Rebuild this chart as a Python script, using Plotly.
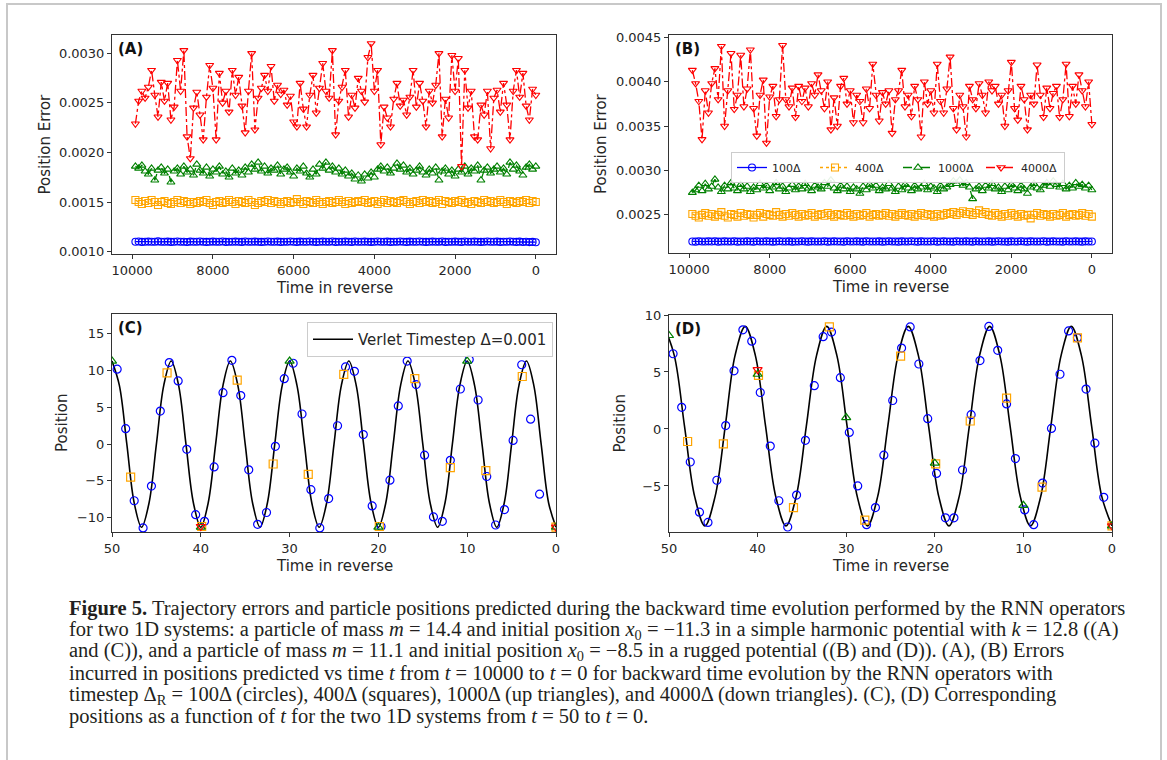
import plotly.graph_objects as go

# ---------------- data ----------------
T_ERR = list(range(9920, -1, -80))  # sampling times for panels A/B (125 samples)

A_100 = [
    0.001100, 0.001102, 0.001098, 0.001100, 0.001101, 0.001099, 0.001100, 0.001103, 0.001099, 0.001100,
    0.001101, 0.001098, 0.001100, 0.001102, 0.001099, 0.001100, 0.001097, 0.001101, 0.001100, 0.001099,
    0.001102, 0.001100, 0.001098, 0.001100, 0.001101, 0.001099, 0.001100, 0.001102, 0.001098, 0.001100,
    0.001099, 0.001101, 0.001100, 0.001098, 0.001102, 0.001100, 0.001099, 0.001101, 0.001100, 0.001098,
    0.001100, 0.001102, 0.001099, 0.001100, 0.001101, 0.001098, 0.001100, 0.001099, 0.001102, 0.001100,
    0.001098, 0.001101, 0.001100, 0.001099, 0.001102, 0.001100, 0.001098, 0.001100, 0.001101, 0.001099,
    0.001100, 0.001102, 0.001098, 0.001100, 0.001099, 0.001101, 0.001100, 0.001098, 0.001102, 0.001100,
    0.001099, 0.001101, 0.001100, 0.001098, 0.001100, 0.001102, 0.001099, 0.001100, 0.001101, 0.001098,
    0.001100, 0.001099, 0.001102, 0.001100, 0.001098, 0.001101, 0.001100, 0.001099, 0.001102, 0.001100,
    0.001098, 0.001100, 0.001101, 0.001099, 0.001100, 0.001102, 0.001098, 0.001100, 0.001099, 0.001101,
    0.001100, 0.001098, 0.001102, 0.001100, 0.001099, 0.001101, 0.001100, 0.001098, 0.001100, 0.001102,
    0.001099, 0.001100, 0.001101, 0.001098, 0.001100, 0.001099, 0.001102, 0.001100, 0.001098, 0.001101,
    0.001097, 0.001099, 0.001096, 0.001098, 0.001095,
]
A_400 = [
    0.00152, 0.00150, 0.00148, 0.00151, 0.00149, 0.00152, 0.00150, 0.00147, 0.00150, 0.00151,
    0.00149, 0.00148, 0.00150, 0.00152, 0.00149, 0.00151, 0.00150, 0.00148, 0.00150, 0.00149,
    0.00151, 0.00150, 0.00152, 0.00149, 0.00147, 0.00150, 0.00151, 0.00149, 0.00150, 0.00152,
    0.00150, 0.00148, 0.00151, 0.00150, 0.00149, 0.00152, 0.00150, 0.00147, 0.00149, 0.00151,
    0.00150, 0.00152, 0.00149, 0.00151, 0.00150, 0.00148, 0.00150, 0.00151, 0.00149, 0.00150,
    0.00153, 0.00150, 0.00148, 0.00151, 0.00150, 0.00149, 0.00152, 0.00150, 0.00148, 0.00150,
    0.00151, 0.00149, 0.00150, 0.00152, 0.00150, 0.00148, 0.00151, 0.00149, 0.00150, 0.00151,
    0.00150, 0.00152, 0.00149, 0.00150, 0.00151, 0.00148, 0.00150, 0.00152, 0.00149, 0.00151,
    0.00150, 0.00149, 0.00151, 0.00152, 0.00150, 0.00148, 0.00150, 0.00151, 0.00149, 0.00152,
    0.00150, 0.00151, 0.00149, 0.00150, 0.00152, 0.00148, 0.00151, 0.00150, 0.00149, 0.00151,
    0.00150, 0.00152, 0.00149, 0.00150, 0.00148, 0.00151, 0.00150, 0.00149, 0.00152, 0.00150,
    0.00151, 0.00149, 0.00150, 0.00152, 0.00150, 0.00148, 0.00151, 0.00150, 0.00149, 0.00151,
    0.00150, 0.00152, 0.00149, 0.00151, 0.00150,
]
A_1000 = [
    0.00186, 0.00184, 0.00187, 0.00181, 0.00178, 0.00184, 0.00172, 0.00182, 0.00185, 0.00179,
    0.00183, 0.00170, 0.00181, 0.00184, 0.00178, 0.00186, 0.00180, 0.00183, 0.00177, 0.00188,
    0.00182, 0.00179, 0.00185, 0.00176, 0.00183, 0.00180, 0.00186, 0.00178, 0.00181, 0.00175,
    0.00184, 0.00179, 0.00182, 0.00177, 0.00185, 0.00180, 0.00188, 0.00183, 0.00190, 0.00181,
    0.00186, 0.00179, 0.00184, 0.00182, 0.00187, 0.00178, 0.00183, 0.00185, 0.00180, 0.00176,
    0.00184, 0.00181, 0.00186, 0.00179, 0.00175, 0.00183, 0.00178, 0.00188, 0.00184, 0.00190,
    0.00182, 0.00186, 0.00180, 0.00184, 0.00178, 0.00182, 0.00176, 0.00179, 0.00173, 0.00177,
    0.00171, 0.00178, 0.00174, 0.00180, 0.00175, 0.00183, 0.00186, 0.00181, 0.00185, 0.00179,
    0.00184, 0.00189, 0.00183, 0.00187, 0.00180, 0.00184, 0.00178, 0.00182, 0.00186, 0.00180,
    0.00177, 0.00183, 0.00179, 0.00185, 0.00172, 0.00181, 0.00184, 0.00178, 0.00182, 0.00176,
    0.00183, 0.00180, 0.00186, 0.00178, 0.00184, 0.00181, 0.00187, 0.00172, 0.00182, 0.00185,
    0.00179, 0.00183, 0.00186, 0.00180, 0.00184, 0.00178, 0.00190, 0.00183, 0.00187, 0.00181,
    0.00177, 0.00185, 0.00188, 0.00183, 0.00186,
]
A_4000 = [
    0.00229, 0.00252, 0.00262, 0.00255, 0.00266, 0.00283, 0.00258, 0.00236, 0.00271, 0.00252,
    0.00270, 0.00233, 0.00246, 0.00293, 0.00262, 0.00303, 0.00216, 0.00194, 0.00245, 0.00261,
    0.00238, 0.00213, 0.00256, 0.00288, 0.00265, 0.00213, 0.00280, 0.00250, 0.00262, 0.00241,
    0.00283, 0.00258, 0.00276, 0.00247, 0.00220, 0.00262, 0.00300, 0.00223, 0.00255, 0.00265,
    0.00278, 0.00262, 0.00287, 0.00252, 0.00268, 0.00259, 0.00263, 0.00248, 0.00257, 0.00231,
    0.00226, 0.00270, 0.00244, 0.00226, 0.00258, 0.00278, 0.00240, 0.00265, 0.00290, 0.00262,
    0.00255, 0.00303, 0.00218, 0.00252, 0.00266, 0.00283, 0.00236, 0.00258, 0.00245, 0.00275,
    0.00262, 0.00251, 0.00296, 0.00310, 0.00262, 0.00283, 0.00208, 0.00246, 0.00235, 0.00226,
    0.00254, 0.00270, 0.00247, 0.00253, 0.00238, 0.00256, 0.00283, 0.00246, 0.00270, 0.00252,
    0.00226, 0.00262, 0.00250, 0.00268, 0.00300, 0.00216, 0.00254, 0.00235, 0.00298, 0.00262,
    0.00295, 0.00186, 0.00283, 0.00245, 0.00262, 0.00216, 0.00213, 0.00248, 0.00238, 0.00262,
    0.00204, 0.00255, 0.00263, 0.00241, 0.00270, 0.00248, 0.00213, 0.00262, 0.00283, 0.00256,
    0.00280, 0.00247, 0.00233, 0.00264, 0.00258,
]

B_100 = [
    0.002200, 0.002198, 0.002202, 0.002200, 0.002199, 0.002201, 0.002200, 0.002203, 0.002198, 0.002200,
    0.002201, 0.002199, 0.002200, 0.002202, 0.002198, 0.002200, 0.002199, 0.002201, 0.002200, 0.002198,
    0.002202, 0.002200, 0.002199, 0.002201, 0.002200, 0.002198, 0.002200, 0.002202, 0.002199, 0.002200,
    0.002201, 0.002198, 0.002200, 0.002199, 0.002202, 0.002200, 0.002198, 0.002201, 0.002200, 0.002199,
    0.002200, 0.002202, 0.002198, 0.002200, 0.002201, 0.002199, 0.002200, 0.002198, 0.002202, 0.002200,
    0.002199, 0.002201, 0.002200, 0.002198, 0.002202, 0.002200, 0.002199, 0.002200, 0.002201, 0.002198,
    0.002200, 0.002202, 0.002199, 0.002200, 0.002198, 0.002201, 0.002200, 0.002199, 0.002202, 0.002200,
    0.002198, 0.002201, 0.002200, 0.002199, 0.002200, 0.002202, 0.002198, 0.002200, 0.002201, 0.002199,
    0.002200, 0.002198, 0.002202, 0.002200, 0.002199, 0.002201, 0.002200, 0.002198, 0.002202, 0.002200,
    0.002199, 0.002200, 0.002201, 0.002198, 0.002200, 0.002202, 0.002199, 0.002200, 0.002198, 0.002201,
    0.002200, 0.002199, 0.002202, 0.002200, 0.002198, 0.002201, 0.002200, 0.002199, 0.002200, 0.002202,
    0.002198, 0.002200, 0.002201, 0.002199, 0.002200, 0.002198, 0.002202, 0.002200, 0.002199, 0.002201,
    0.002200, 0.002198, 0.002201, 0.002199, 0.002200,
]
B_400 = [
    0.00251, 0.00249, 0.00247, 0.00250, 0.00252, 0.00249, 0.00251, 0.00248, 0.00250, 0.00253,
    0.00249, 0.00247, 0.00251, 0.00250, 0.00248, 0.00252, 0.00249, 0.00251, 0.00250, 0.00247,
    0.00250, 0.00252, 0.00248, 0.00251, 0.00250, 0.00249, 0.00253, 0.00250, 0.00248, 0.00251,
    0.00249, 0.00252, 0.00250, 0.00248, 0.00251, 0.00249, 0.00250, 0.00252, 0.00248, 0.00250,
    0.00251, 0.00249, 0.00252, 0.00250, 0.00248, 0.00251, 0.00250, 0.00249, 0.00252, 0.00250,
    0.00248, 0.00251, 0.00249, 0.00250, 0.00252, 0.00248, 0.00250, 0.00251, 0.00249, 0.00250,
    0.00252, 0.00249, 0.00251, 0.00248, 0.00250, 0.00252, 0.00250, 0.00249, 0.00251, 0.00248,
    0.00250, 0.00252, 0.00249, 0.00251, 0.00250, 0.00248, 0.00251, 0.00249, 0.00250, 0.00252,
    0.00251, 0.00253, 0.00250, 0.00252, 0.00254, 0.00251, 0.00253, 0.00250, 0.00252, 0.00255,
    0.00251, 0.00253, 0.00250, 0.00249, 0.00252, 0.00250, 0.00248, 0.00251, 0.00249, 0.00252,
    0.00250, 0.00248, 0.00251, 0.00249, 0.00250, 0.00246, 0.00250, 0.00252, 0.00249, 0.00251,
    0.00250, 0.00248, 0.00251, 0.00249, 0.00250, 0.00252, 0.00248, 0.00250, 0.00251, 0.00249,
    0.00250, 0.00252, 0.00249, 0.00251, 0.00248,
]
B_1000 = [
    0.00275, 0.00278, 0.00283, 0.00277, 0.00285, 0.00279, 0.00282, 0.00290, 0.00281, 0.00276,
    0.00283, 0.00279, 0.00286, 0.00280, 0.00277, 0.00284, 0.00279, 0.00282, 0.00276, 0.00281,
    0.00278, 0.00285, 0.00280, 0.00283, 0.00277, 0.00281, 0.00286, 0.00279, 0.00282, 0.00276,
    0.00280, 0.00284, 0.00278, 0.00282, 0.00279, 0.00285, 0.00280, 0.00277, 0.00283, 0.00281,
    0.00279, 0.00286, 0.00282, 0.00289, 0.00280, 0.00277, 0.00283, 0.00279, 0.00282, 0.00276,
    0.00281, 0.00279, 0.00274, 0.00282, 0.00278, 0.00284, 0.00280, 0.00283, 0.00277, 0.00281,
    0.00279, 0.00285, 0.00280, 0.00276, 0.00282, 0.00278, 0.00284, 0.00280, 0.00277, 0.00283,
    0.00279, 0.00281, 0.00285, 0.00278, 0.00282, 0.00280, 0.00276, 0.00283, 0.00279, 0.00281,
    0.00284, 0.00288, 0.00285, 0.00289, 0.00283, 0.00286, 0.00281, 0.00268, 0.00279, 0.00282,
    0.00277, 0.00283, 0.00280, 0.00285, 0.00279, 0.00281, 0.00276, 0.00282, 0.00278, 0.00284,
    0.00280, 0.00277, 0.00283, 0.00279, 0.00274, 0.00281, 0.00285, 0.00280, 0.00278, 0.00283,
    0.00286, 0.00282, 0.00288, 0.00284, 0.00281, 0.00285, 0.00279, 0.00283, 0.00280, 0.00286,
    0.00282, 0.00284, 0.00280, 0.00283, 0.00278,
]
B_4000 = [
    0.00413, 0.00398, 0.00378, 0.00335, 0.00390, 0.00365, 0.00398, 0.00415, 0.00380, 0.00440,
    0.00350, 0.00390, 0.00432, 0.00369, 0.00385, 0.00430, 0.00372, 0.00392, 0.00436, 0.00370,
    0.00339, 0.00385, 0.00402, 0.00331, 0.00383, 0.00395, 0.00361, 0.00380, 0.00441, 0.00380,
    0.00372, 0.00393, 0.00360, 0.00395, 0.00378, 0.00393, 0.00372, 0.00398, 0.00385, 0.00408,
    0.00390, 0.00370, 0.00400, 0.00346, 0.00382, 0.00350, 0.00395, 0.00404, 0.00375, 0.00390,
    0.00354, 0.00385, 0.00378, 0.00354, 0.00392, 0.00370, 0.00420, 0.00385, 0.00356, 0.00388,
    0.00375, 0.00390, 0.00342, 0.00380, 0.00390, 0.00413, 0.00372, 0.00385, 0.00361, 0.00395,
    0.00380, 0.00338, 0.00400, 0.00375, 0.00390, 0.00365, 0.00420, 0.00378, 0.00365, 0.00392,
    0.00428, 0.00370, 0.00346, 0.00385, 0.00372, 0.00338, 0.00395, 0.00380, 0.00370, 0.00398,
    0.00385, 0.00365, 0.00400, 0.00390, 0.00395, 0.00375, 0.00385, 0.00350, 0.00390, 0.00422,
    0.00370, 0.00357, 0.00395, 0.00380, 0.00346, 0.00385, 0.00375, 0.00419, 0.00385, 0.00360,
    0.00393, 0.00370, 0.00387, 0.00395, 0.00360, 0.00380, 0.00420, 0.00361, 0.00395, 0.00375,
    0.00408, 0.00390, 0.00372, 0.00400, 0.00352,
]

# Panel C (harmonic potential)
C_VERLET_T = [50, 49.17, 48.33, 47.5, 46.67, 45.83, 45, 44.17, 43.33, 42.5, 41.67, 40.83, 40,
              39.17, 38.33, 37.5, 36.67, 35.83, 35, 34.17, 33.33, 32.5, 31.67, 30.83, 30,
              29.17, 28.33, 27.5, 26.67, 25.83, 25, 24.17, 23.33, 22.5, 21.67, 20.83, 20,
              19.17, 18.33, 17.5, 16.67, 15.83, 15, 14.17, 13.33, 12.5, 11.67, 10.83, 10,
              9.17, 8.33, 7.5, 6.67, 5.83, 5, 4.17, 3.33, 2.5, 1.67, 0.83, 0]
C_VERLET_X = [11.3, 8.0, 0.0, -8.0, -11.3, -8.0, 0.0, 8.0, 11.3, 8.0, 0.0, -8.0, -11.3,
              -8.0, 0.0, 8.0, 11.3, 8.0, 0.0, -8.0, -11.3, -8.0, 0.0, 8.0, 11.3,
              8.0, 0.0, -8.0, -11.3, -8.0, 0.0, 8.0, 11.3, 8.0, 0.0, -8.0, -11.3,
              -8.0, 0.0, 8.0, 11.3, 8.0, 0.0, -8.0, -11.3, -8.0, 0.0, 8.0, 11.3,
              8.0, 0.0, -8.0, -11.3, -8.0, 0.0, 8.0, 11.3, 8.0, 0.0, -8.0, -11.3]
C_T_100 = [49.42, 48.46, 47.5, 46.5, 45.56, 44.56, 43.55, 42.55, 41.58, 40.58,
           39.58, 38.5, 37.5, 36.5, 35.5, 34.6, 33.6, 32.6, 31.6, 30.6,
           29.6, 28.6, 27.6, 26.6, 25.6, 24.6, 23.7, 22.7, 21.7, 20.7,
           19.7, 18.7, 17.76, 16.76, 15.75, 14.8, 13.8, 12.8, 11.9, 10.77,
           9.77, 8.77, 7.8, 6.8, 5.8, 4.83, 3.86, 2.86, 1.85]
C_X_100 = [10.2, 2.1, -7.7, -11.4, -5.7, 4.5, 11.1, 8.6, -0.7, -9.6,
           -10.5, -3.1, 7.0, 11.4, 6.6, -3.5, -10.9, -9.3, -0.3, 8.9,
           11.0, 4.1, -6.2, -11.4, -7.4, 2.5, 10.5, 9.9, 1.3, -8.4,
           -11.2, -4.9, 5.2, 11.3, 8.1, -1.5, -9.9, -10.5, -2.2, 7.5,
           11.5, 6.0, -4.4, -11.0, -8.9, 0.5, 10.8, 3.4, -6.8]
C_T_400 = [47.9, 43.8, 39.9, 35.9, 31.85, 27.9, 23.9, 19.9, 15.9, 11.9, 7.9, 3.8, 0.0]
C_X_400 = [-4.5, 9.7, -11.2, 8.7, -2.7, -4.1, 9.5, -11.2, 8.9, -3.2, -3.6, 9.2, -11.3]
C_T_1000 = [50, 40, 30, 20, 10, 0]
C_X_1000 = [11.3, -11.3, 11.3, -11.3, 11.3, -11.3]
C_T_4000 = [40, 0]
C_X_4000 = [-11.2, -11.3]

# Panel D (rugged potential)
D_VERLET_T = [50.55, 49.4, 48.25, 47.1, 45.95, 44.8, 43.65, 42.55, 41.4, 40.25, 39.1, 37.95,
              36.8, 35.65, 34.5, 33.35, 32.2, 31.05, 29.9, 28.75, 27.6, 26.45, 25.3, 24.15,
              23.0, 21.85, 20.7, 19.55, 18.4, 17.25, 16.1, 14.95, 13.8, 12.65, 11.5, 10.35,
              9.2, 8.05, 6.9, 5.75, 4.6, 3.45, 2.3, 1.15, 0]
D_VERLET_X = [9.0, 6.44, 0.25, -5.94, -8.5, -5.94, 0.25, 6.44, 9.0, 6.44, 0.25, -5.94,
              -8.5, -5.94, 0.25, 6.44, 9.0, 6.44, 0.25, -5.94, -8.5, -5.94, 0.25, 6.44,
              9.0, 6.44, 0.25, -5.94, -8.5, -5.94, 0.25, 6.44, 9.0, 6.44, 0.25, -5.94,
              -8.5, -5.94, 0.25, 6.44, 9.0, 6.44, 0.25, -5.94, -8.5]
D_T_100 = [49.54, 48.57, 47.6, 46.56, 45.6, 44.6, 43.6, 42.66, 41.66, 40.66,
           39.7, 38.57, 37.6, 36.6, 35.6, 34.6, 33.6, 32.6, 31.66, 30.66,
           29.65, 28.7, 27.7, 26.7, 25.75, 24.75, 23.75, 22.78, 21.8, 20.8,
           19.8, 18.8, 17.84, 16.87, 15.9, 14.9, 13.9, 12.9, 11.9, 10.9,
           9.85, 8.84, 7.84, 6.83, 5.87, 4.9, 3.9, 2.93, 1.93, 0.93]
D_X_100 = [6.6, 1.9, -2.9, -7.3, -8.2, -4.5, 0.3, 5.1, 8.7, 7.7,
           3.2, -1.5, -6.3, -8.6, -5.8, -1.0, 3.8, 8.1, 8.5, 4.5,
           -0.3, -5.0, -8.4, -6.9, -2.3, 2.5, 7.1, 8.95, 5.7, 0.9,
           -3.9, -7.8, -7.8, -3.6, 1.25, 6.0, 9.0, 6.9, 2.2, -2.6,
           -7.1, -8.4, -4.75, 0.05, 4.8, 8.6, 8.0, 3.5, -1.25, -6.0]
D_T_400 = [47.9, 43.86, 39.9, 35.95, 31.9, 27.9, 23.86, 19.9, 16.0, 11.9, 7.9, 3.9, 0.0]
D_X_400 = [-1.1, -1.3, 4.7, -6.9, 8.95, -8.0, 6.4, -3.06, 0.7, 2.7, -5.1, 8.0, -8.5]
D_T_1000 = [50, 40, 30, 20, 10, 0]
D_X_1000 = [8.2, 4.8, 1.0, -3.0, -6.7, -8.5]
D_T_4000 = [40, 0]
D_X_4000 = [5.2, -8.5]

SERIES_NAMES = ["100Δ", "400Δ", "1000Δ", "4000Δ"]
PANEL_LABELS = ["(A)", "(B)", "(C)", "(D)"]
X_TICKS_ERR = [10000, 8000, 6000, 4000, 2000, 0]
X_TICKS_POS = [50, 40, 30, 20, 10, 0]

CAPTION = [
    "<b>Figure 5.</b> Trajectory errors and particle positions predicted during the backward time evolution performed by the RNN operators",
    "for two 1D systems: a particle of mass <i>m</i> = 14.4 and initial position <i>x</i><sub>0</sub> = −11.3 in a simple harmonic potential with <i>k</i> = 12.8 ((A)",
    "and (C)), and a particle of mass <i>m</i> = 11.1 and initial position <i>x</i><sub>0</sub> = −8.5 in a rugged potential ((B) and (D)). (A), (B) Errors",
    "incurred in positions predicted vs time <i>t</i> from <i>t</i> = 10000 to <i>t</i> = 0 for backward time evolution by the RNN operators with",
    "timestep Δ<sub>R</sub> = 100Δ (circles), 400Δ (squares), 1000Δ (up triangles), and 4000Δ (down triangles). (C), (D) Corresponding",
    "positions as a function of <i>t</i> for the two 1D systems from <i>t</i> = 50 to <i>t</i> = 0.",
]

# ---------------- styling ----------------
W, H = 1167, 760
COLORS = ["#0000ff", "#ffa500", "#008000", "#ff0000"]
SYMBOLS = ["circle-open", "square-open", "triangle-up-open", "triangle-down-open"]
DASHES = ["solid", "dot", "dash", "dashdot"]
FONT = "DejaVu Sans"
TXT = "#262626"


def px_x(p):
    return p / W


def px_y(p):
    return 1 - p / H


fig = go.Figure()

# panel geometry in pixels (left, right, top, bottom)
BOX = {
    "A": (112, 556, 35, 254),
    "B": (669, 1112, 35, 253),
    "C": (112, 556, 314, 532),
    "D": (669, 1112, 315, 532),
}
AX = {"A": ("x", "y"), "B": ("x2", "y2"), "C": ("x3", "y3"), "D": ("x4", "y4")}

err_sets = {
    "A": [A_100, A_400, A_1000, A_4000],
    "B": [B_100, B_400, B_1000, B_4000],
}
for panel, sets in err_sets.items():
    xa, ya = AX[panel]
    for k, vals in enumerate(sets):
        fig.add_trace(go.Scatter(
            x=T_ERR, y=vals, xaxis=xa, yaxis=ya, mode="lines+markers",
            name=SERIES_NAMES[k], showlegend=(panel == "B"), legend="legend",
            line=dict(color=COLORS[k], width=1.3, dash=DASHES[k]),
            marker=dict(symbol=SYMBOLS[k], size=7, color=COLORS[k],
                        line=dict(width=1.1, color=COLORS[k])),
        ))

pos_sets = {
    "C": (C_VERLET_T, C_VERLET_X, [(C_T_100, C_X_100), (C_T_400, C_X_400),
                                   (C_T_1000, C_X_1000), (C_T_4000, C_X_4000)]),
    "D": (D_VERLET_T, D_VERLET_X, [(D_T_100, D_X_100), (D_T_400, D_X_400),
                                   (D_T_1000, D_X_1000), (D_T_4000, D_X_4000)]),
}
for panel, (vt, vx, pts) in pos_sets.items():
    xa, ya = AX[panel]
    fig.add_trace(go.Scatter(
        x=vt, y=vx, xaxis=xa, yaxis=ya, mode="lines",
        name="Verlet Timestep Δ=0.001", showlegend=(panel == "C"), legend="legend2",
        line=dict(color="#000000", width=1.6, shape="spline", smoothing=1.0),
    ))
    for k, (tt, xx) in enumerate(pts):
        fig.add_trace(go.Scatter(
            x=tt, y=xx, xaxis=xa, yaxis=ya, mode="markers", showlegend=False,
            marker=dict(symbol=SYMBOLS[k], size=8, color=COLORS[k],
                        line=dict(width=1.2, color=COLORS[k])),
        ))

axis_common = dict(
    showline=True, mirror=True, linecolor="#333333", linewidth=1,
    ticks="outside", ticklen=4, tickcolor="#333333", tickwidth=1,
    showgrid=False, zeroline=False, automargin=False,
    tickfont=dict(family=FONT, size=13, color=TXT),
)

layout_axes = {}
ranges = {
    "A": ([10500, -500], [0.000976, 0.003185], X_TICKS_ERR, [0.0010, 0.0015, 0.0020, 0.0025, 0.0030], ".4f"),
    "B": ([10500, -500], [0.00207, 0.004526], X_TICKS_ERR, [0.0025, 0.0030, 0.0035, 0.0040, 0.0045], ".4f"),
    "C": ([50, 0], [-11.95, 17.7], X_TICKS_POS, [-10, -5, 0, 5, 10, 15], "d"),
    "D": ([50, 0], [-9.04, 10.0], X_TICKS_POS, [-5, 0, 5, 10], "d"),
}
for i, panel in enumerate(["A", "B", "C", "D"]):
    l, r, t, b = BOX[panel]
    xr, yr, xt, yt, yfmt = ranges[panel]
    sfx = "" if i == 0 else str(i + 1)
    layout_axes["xaxis" + sfx] = dict(
        axis_common, domain=[px_x(l), px_x(r)], range=xr, tickvals=xt,
        ticktext=[str(v) for v in xt], anchor="y" + sfx,
    )
    layout_axes["yaxis" + sfx] = dict(
        axis_common, domain=[px_y(b), px_y(t)], range=yr, tickvals=yt,
        tickformat=yfmt, anchor="x" + sfx,
    )
fig.update_layout(**layout_axes)

annotations = []
# panel labels
for panel, lab in zip(["A", "B", "C", "D"], PANEL_LABELS):
    l, r, t, b = BOX[panel]
    annotations.append(dict(
        x=px_x(l + 4), y=px_y(t + 3), xref="paper", yref="paper", text="<b>" + lab + "</b>",
        showarrow=False, xanchor="left", yanchor="top",
        font=dict(family=FONT, size=15, color="#111111"),
    ))
# axis titles
for panel in ["A", "B", "C", "D"]:
    l, r, t, b = BOX[panel]
    annotations.append(dict(
        x=px_x((l + r) / 2), y=px_y(b + 34), xref="paper", yref="paper",
        text="Time in reverse", showarrow=False, xanchor="center", yanchor="middle",
        font=dict(family=FONT, size=15, color=TXT),
    ))
    ylab = "Position Error" if panel in ("A", "B") else "Position"
    xoff = 68 if panel in ("A", "B") else 50
    annotations.append(dict(
        x=px_x(l - xoff), y=px_y((t + b) / 2), xref="paper", yref="paper",
        text=ylab, showarrow=False, xanchor="center", yanchor="middle", textangle=-90,
        font=dict(family=FONT, size=15, color=TXT),
    ))
# caption
CAP_Y = [608, 630, 651, 673, 695, 716]
for line, yy in zip(CAPTION, CAP_Y):
    annotations.append(dict(
        x=px_x(67), y=px_y(yy), xref="paper", yref="paper", text=line,
        showarrow=False, xanchor="left", yanchor="middle",
        font=dict(family="Liberation Serif", size=20.5, color="#231f20"),
    ))

shapes = [dict(type="rect", xref="paper", yref="paper",
               x0=px_x(7), x1=px_x(1161), y0=px_y(790), y1=px_y(4),
               line=dict(color="#c8c8c8", width=2), fillcolor="rgba(0,0,0,0)")]

fig.update_layout(
    width=W, height=H, margin=dict(l=0, r=0, t=0, b=0, autoexpand=False),
    paper_bgcolor="white", plot_bgcolor="white",
    annotations=annotations, shapes=shapes,
    font=dict(family=FONT, color=TXT),
    legend=dict(
        x=px_x(731), y=px_y(152), xanchor="left", yanchor="top", orientation="h",
        bgcolor="rgba(255,255,255,0.9)", bordercolor="#cccccc", borderwidth=1,
        font=dict(family=FONT, size=11, color=TXT), entrywidth=38, itemwidth=30,
        traceorder="normal",
    ),
    legend2=dict(
        x=px_x(553), y=px_y(322), xanchor="right", yanchor="top",
        bgcolor="rgba(255,255,255,0.9)", bordercolor="#cccccc", borderwidth=1,
        font=dict(family=FONT, size=15, color=TXT), itemwidth=40,
    ),
)

fig.write_html("out.html")
